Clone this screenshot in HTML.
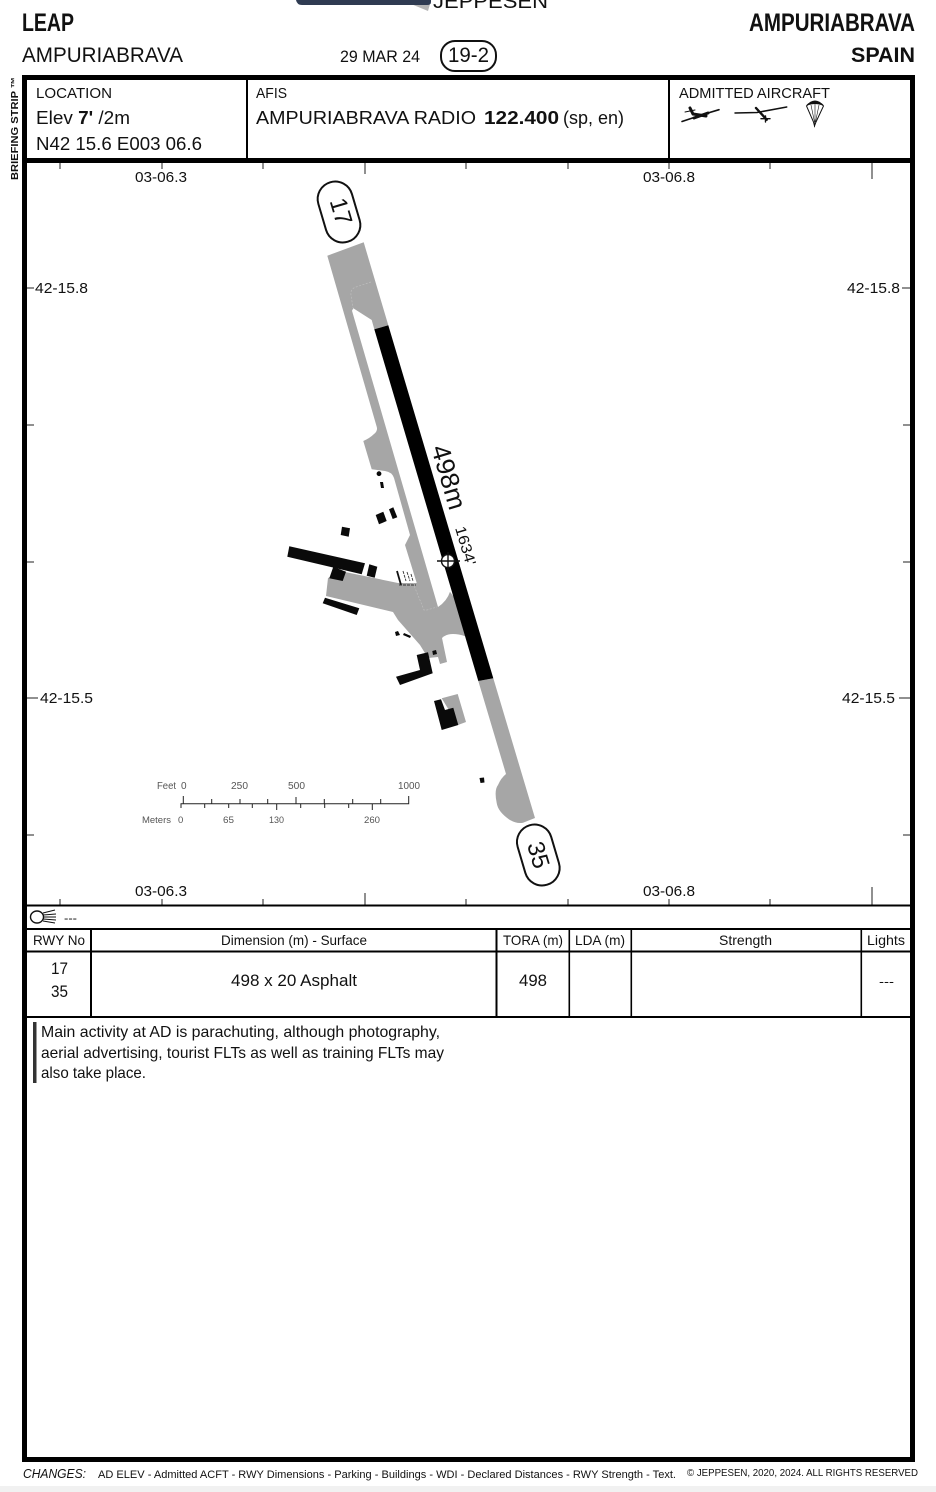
<!DOCTYPE html>
<html><head><meta charset="utf-8"><style>
html,body{margin:0;padding:0;background:#fff}
svg{display:block}
text{font-family:"Liberation Sans",sans-serif;fill:#111}
</style></head><body>
<svg width="936" height="1492" viewBox="0 0 936 1492" xmlns="http://www.w3.org/2000/svg">
<rect width="936" height="1492" fill="#fff"/>
<rect y="1486" width="936" height="6" fill="#f1f1f1"/>
<!-- top fragment -->
<path d="M411 4L430 4L428 11Z" fill="#b5b5b5"/>
<text x="433" y="8" font-size="20" textLength="115" lengthAdjust="spacingAndGlyphs">JEPPESEN</text>
<path d="M296 0H431V2Q431 5 427 5H302Q297 5 296 0Z" fill="#2f3b52"/>
<!-- header -->
<text x="22" y="31" font-size="25" font-weight="bold" textLength="52" lengthAdjust="spacingAndGlyphs">LEAP</text>
<text x="749" y="31" font-size="25" font-weight="bold" textLength="166" lengthAdjust="spacingAndGlyphs">AMPURIABRAVA</text>
<text x="22" y="62" font-size="21" textLength="161" lengthAdjust="spacingAndGlyphs">AMPURIABRAVA</text>
<text x="340" y="62" font-size="16.5" textLength="80" lengthAdjust="spacingAndGlyphs">29 MAR 24</text>
<text x="448" y="62" font-size="21" textLength="41" lengthAdjust="spacingAndGlyphs">19-2</text>
<text x="851" y="62" font-size="21" font-weight="bold" textLength="64" lengthAdjust="spacingAndGlyphs">SPAIN</text>
<rect x="441" y="41" width="55" height="30" rx="14" fill="none" stroke="#111" stroke-width="2"/>
<text transform="translate(18,180) rotate(-90)" font-size="10" font-weight="bold" textLength="103" lengthAdjust="spacingAndGlyphs">BRIEFING STRIP ™</text>

<!-- map: grey paved surfaces -->
<path fill="#a6a6a6" d="M327.3 255.7L363.7 242.3L388.3 325.3L374.3 329.3L371.7 320L353.3 308.3L352 310.7L438 607Q447 601 450 591.7L456 600L467 637Q460 634 453 634Q446 634 442 638L447 662L440 664L438 657L428 658L420 645L398 620L393 612L326 596L328 578L345 572L398 583L416.7 583L405 545L410 535L394 478Q392 472 385 471L371.7 469.3L363.3 441Q370 438 374 434Q378 431 376.7 426.7Z"/>
<path fill="#a6a6a6" d="M478.3 681L493.3 678.3L535 818L523 822.7Q517 824 510 820Q498 812 496.7 803Q494 790 498 785Q501 778 506 774Z"/>
<path fill="none" stroke="#bdbdbd" stroke-width=".7" stroke-dasharray="2 1.5" d="M371 282L356 287Q350 289 351 295L353 308M413 583L424 610L427 610L437 607"/>
<!-- parking markings -->
<path fill="none" stroke="#111" stroke-width="1.8" d="M397 571L401 585"/>
<path fill="none" stroke="#333" stroke-width=".9" d="M403 571L406 581M407 572L410 581M411 574L413 581M399 585H416" stroke-dasharray="3 1"/>
<!-- runway -->
<path fill="#000" d="M374.3 329.3L388.3 325.3L493.3 678.3L478.3 681Z"/>
<!-- buildings -->
<g fill="#0a0a0a">
<path d="M287.3 556.7L289.3 546.3L365 563.3L361.7 574.3Z"/>
<path d="M329.3 578.3L333.3 566.7L346 571.7L342.7 581Z"/>
<path d="M366.7 575.7L369.3 564.3L377.3 566.7L374.7 577.7Z"/>
<path d="M340.7 535L342 526.7L350 528.3L348.7 536.7Z"/>
<path d="M375.7 515L383.3 511.7L386.7 521L379 524.3Z"/>
<path d="M389 509.3L393.3 507.3L397.3 517.3L392.7 519Z"/>
<circle cx="379" cy="473.7" r="2.4"/>
<path d="M380 482L383 482L384 488L381 488Z"/>
<path d="M322.7 603.3L325 597.7L359.3 608.3L356.7 615Z"/>
<path d="M395 632L398 631L400 635L396 636Z"/>
<path d="M403 635L404 633L411 636L410 638Z"/>
<path d="M396 676.7L400 685L432.7 673.3L428 652.3L416.7 655L420 670Z"/>
<path d="M432.3 651L436 650L437 654L433 655Z"/>
<path d="M479.5 778L484 777.5L484.5 782.5L480.5 783Z"/>
</g>
<path fill="#a6a6a6" d="M441.7 698.3L457.7 694L466 722L458 725Z"/>
<path fill="#0a0a0a" d="M434 701L441 699.3L445 710L453.3 707.7L458.3 725L441.7 730Z"/>
<!-- runway ovals -->
<g transform="translate(339,212) rotate(-16.5)">
<rect x="-17.5" y="-31" width="35" height="62" rx="17.5" fill="#fff" stroke="#111" stroke-width="2"/>
<text transform="rotate(90)" x="0" y="6" font-size="24" text-anchor="middle">17</text>
</g>
<g transform="translate(538.3,855) rotate(-16.5)">
<rect x="-17.5" y="-31" width="35" height="62" rx="17.5" fill="#fff" stroke="#111" stroke-width="2"/>
<text transform="rotate(90)" x="0" y="8" font-size="24" text-anchor="middle">35</text>
</g>
<!-- runway labels -->
<text transform="translate(431,448) rotate(73.5)" font-size="26" textLength="66" lengthAdjust="spacingAndGlyphs">498m</text>
<text transform="translate(455,528) rotate(73.5)" font-size="15" textLength="40" lengthAdjust="spacingAndGlyphs">1634'</text>
<!-- ARP -->
<circle cx="448" cy="561" r="6.5" fill="#fff" stroke="#111" stroke-width="1.4"/>
<path d="M437 561H460M448 552V570" stroke="#111" stroke-width="1.4"/>
<!-- ticks -->
<g stroke="#222" stroke-width="1">
<path d="M60 163V169M162 163V169M263 163V169M365 163V174M466 163V169M568 163V169M669 163V169M770 163V169M872 163V179"/>
<path d="M60 905V899M162 905V899M263 905V899M365 905V893M466 905V899M568 905V899M669 905V899M770 905V899M872 905V887"/>
<path d="M27 288H34M27 425H34M27 562H34M27 698H38M27 835H34"/>
<path d="M910 288H902M910 425H903M910 562H903M910 698H899M910 835H903"/>
</g>
<g font-size="15">
<text x="135" y="182" textLength="52" lengthAdjust="spacingAndGlyphs">03-06.3</text>
<text x="643" y="182" textLength="52" lengthAdjust="spacingAndGlyphs">03-06.8</text>
<text x="135" y="896" textLength="52" lengthAdjust="spacingAndGlyphs">03-06.3</text>
<text x="643" y="896" textLength="52" lengthAdjust="spacingAndGlyphs">03-06.8</text>
<text x="35" y="293" textLength="53" lengthAdjust="spacingAndGlyphs">42-15.8</text>
<text x="847" y="293" textLength="53" lengthAdjust="spacingAndGlyphs">42-15.8</text>
<text x="40" y="703" textLength="53" lengthAdjust="spacingAndGlyphs">42-15.5</text>
<text x="842" y="703" textLength="53" lengthAdjust="spacingAndGlyphs">42-15.5</text>
</g>
<!-- scale -->
<g stroke="#222" stroke-width="1" fill="none">
<path d="M181 808V803.7H408.7V796"/>
<path d="M183.3 803.7V796M211.7 803.7V799M240 803.7V799M267.7 803.7V799M296 803.7V797M324.3 803.7V799M352.7 803.7V799M380.7 803.7V799"/>
<path d="M204.7 803.7V808M228.7 803.7V808M252.3 803.7V808M276.7 803.7V810M300.7 803.7V808M324.7 803.7V808M348.7 803.7V808M372.3 803.7V810"/>
</g>
<g font-size="10">
<text style="fill:#555" x="157" y="789" textLength="19" lengthAdjust="spacingAndGlyphs">Feet</text>
<text style="fill:#555" x="181" y="789">0</text>
<text style="fill:#555" x="231" y="789" textLength="17" lengthAdjust="spacingAndGlyphs">250</text>
<text style="fill:#555" x="288" y="789" textLength="17" lengthAdjust="spacingAndGlyphs">500</text>
<text style="fill:#555" x="398" y="789" textLength="22" lengthAdjust="spacingAndGlyphs">1000</text>
<text style="fill:#555" x="142" y="823" font-size="9.5" textLength="29" lengthAdjust="spacingAndGlyphs">Meters</text>
<text style="fill:#555" x="178" y="823" font-size="9.5">0</text>
<text style="fill:#555" x="223" y="823" font-size="9.5" textLength="11" lengthAdjust="spacingAndGlyphs">65</text>
<text style="fill:#555" x="269" y="823" font-size="9.5" textLength="15" lengthAdjust="spacingAndGlyphs">130</text>
<text style="fill:#555" x="364" y="823" font-size="9.5" textLength="16" lengthAdjust="spacingAndGlyphs">260</text>
</g>

<!-- frame -->
<rect x="24.5" y="77.5" width="888" height="1382" fill="none" stroke="#000" stroke-width="5"/>
<rect x="27" y="158" width="883" height="5" fill="#000"/>
<rect x="246" y="80" width="2" height="78" fill="#000"/>
<rect x="668" y="80" width="2" height="78" fill="#000"/>
<!-- top info -->
<text x="36" y="98" font-size="15" textLength="76" lengthAdjust="spacingAndGlyphs">LOCATION</text>
<text x="36" y="124" font-size="18" textLength="94" lengthAdjust="spacingAndGlyphs">Elev <tspan font-weight="bold">7'</tspan> /2m</text>
<text x="36" y="150" font-size="18" textLength="166" lengthAdjust="spacingAndGlyphs">N42 15.6 E003 06.6</text>
<text x="256" y="98" font-size="15" textLength="31" lengthAdjust="spacingAndGlyphs">AFIS</text>
<text x="256" y="124" font-size="18.5" textLength="220" lengthAdjust="spacingAndGlyphs">AMPURIABRAVA RADIO</text>
<text x="484" y="124" font-size="18.5" font-weight="bold" textLength="75" lengthAdjust="spacingAndGlyphs">122.400</text>
<text x="563" y="124" font-size="18" textLength="61" lengthAdjust="spacingAndGlyphs">(sp, en)</text>
<text x="679" y="98" font-size="15" textLength="151" lengthAdjust="spacingAndGlyphs">ADMITTED AIRCRAFT</text>
<!-- aircraft icons -->
<g fill="none" stroke="#111" stroke-linecap="round">
<path d="M682 121.5L697 116.5M703 114.5L719 109.7" stroke-width="1.6"/>
<path d="M690 108L693 114L706 116" stroke-width="3"/>
<path d="M694 118L708 113" stroke-width="3"/>
<path d="M685 112L695 110" stroke-width="1"/>
<path d="M735 113L757 112.5L786.7 107" stroke-width="1.5"/>
<path d="M756 108L766.7 119.7" stroke-width="2.4"/>
<path d="M761 118.7L770 118.7M765.5 116V122" stroke-width="1.4"/>
<path d="M806.5 106Q815 96 823.5 106L816 122L814.5 126L813.5 122Z" fill="#fff" stroke-width="1"/>
<path d="M807 105Q815 98 823 105Q815 102 807 105Z" fill="#111" stroke-width="1"/>
<path d="M811 105L814.5 122M815 104V122M819 105L815.5 122M814.7 122V127" stroke-width=".6"/>
</g>
<!-- tables -->
<g fill="#000">
<rect x="27" y="904.5" width="883" height="2"/>
<rect x="27" y="928" width="883" height="2"/>
<rect x="27" y="950.5" width="883" height="2"/>
<rect x="27" y="1016" width="883" height="2"/>
<rect x="90" y="928" width="2" height="90"/>
<rect x="495.5" y="928" width="2" height="90"/>
<rect x="568.5" y="928" width="1.6" height="90"/>
<rect x="630.5" y="928" width="1.6" height="90"/>
<rect x="860.5" y="928" width="1.6" height="90"/>
</g>
<!-- lighting icon -->
<g fill="none" stroke="#111" stroke-width="1.1">
<ellipse cx="37" cy="917" rx="6.5" ry="6" stroke-width="1.4"/>
<path d="M43 913L55 910M43 915L56 914M43 917L56 917M43 919L56 920M43 921L55 923"/>
</g>
<text x="64" y="922" font-size="12" textLength="13" lengthAdjust="spacingAndGlyphs">---</text>
<g font-size="14">
<text x="33" y="945" textLength="52" lengthAdjust="spacingAndGlyphs">RWY No</text>
<text x="221" y="945" textLength="146" lengthAdjust="spacingAndGlyphs">Dimension (m) - Surface</text>
<text x="503" y="945" textLength="60" lengthAdjust="spacingAndGlyphs">TORA (m)</text>
<text x="575" y="945" textLength="50" lengthAdjust="spacingAndGlyphs">LDA (m)</text>
<text x="719" y="945" textLength="53" lengthAdjust="spacingAndGlyphs">Strength</text>
<text x="867" y="945" textLength="38" lengthAdjust="spacingAndGlyphs">Lights</text>
</g>
<g font-size="17">
<text x="51" y="974" textLength="17" lengthAdjust="spacingAndGlyphs">17</text>
<text x="51" y="997" textLength="17" lengthAdjust="spacingAndGlyphs">35</text>
<text x="231" y="986" textLength="126" lengthAdjust="spacingAndGlyphs">498 x 20 Asphalt</text>
<text x="519" y="986" textLength="28" lengthAdjust="spacingAndGlyphs">498</text>
</g>
<text x="879" y="986" font-size="13" textLength="15" lengthAdjust="spacingAndGlyphs">---</text>
<rect x="33" y="1022" width="3.5" height="61" fill="#333"/>
<g font-size="16">
<text x="41" y="1037" textLength="399" lengthAdjust="spacingAndGlyphs">Main activity at AD is parachuting, although photography,</text>
<text x="41" y="1058" textLength="403" lengthAdjust="spacingAndGlyphs">aerial advertising, tourist FLTs as well as training FLTs may</text>
<text x="41" y="1078" textLength="105" lengthAdjust="spacingAndGlyphs">also take place.</text>
</g>
<!-- footer -->
<text x="23" y="1478" font-size="13" font-style="italic" textLength="63" lengthAdjust="spacingAndGlyphs">CHANGES:</text>
<text x="98" y="1478" font-size="11" textLength="578" lengthAdjust="spacingAndGlyphs">AD ELEV - Admitted ACFT - RWY Dimensions - Parking - Buildings - WDI - Declared Distances - RWY Strength - Text.</text>
<text x="687" y="1476" font-size="10" textLength="231" lengthAdjust="spacingAndGlyphs">© JEPPESEN, 2020, 2024. ALL RIGHTS RESERVED</text>
</svg>
</body></html>
